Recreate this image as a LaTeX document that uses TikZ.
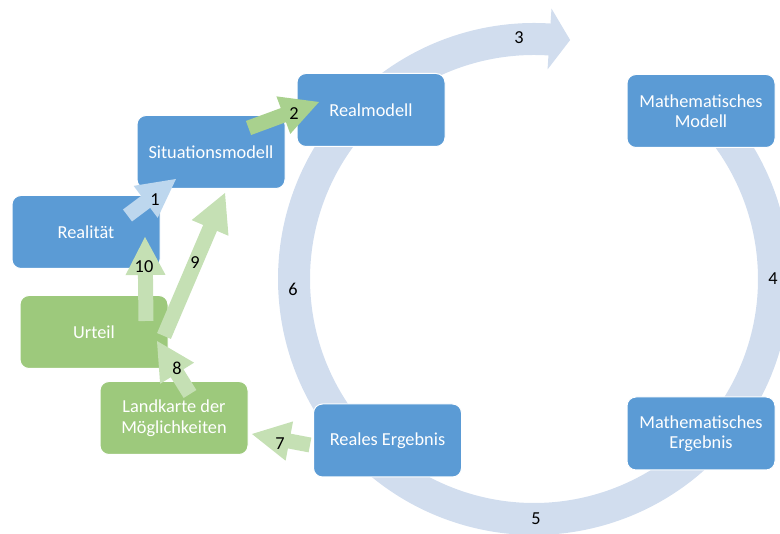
\documentclass[tikz,border=0pt]{standalone}
\usepackage{fontspec}
\setmainfont{Carlito}
\usetikzlibrary{calc}
\definecolor{boxblue}{RGB}{91,155,213}
\definecolor{boxgreen}{RGB}{157,201,124}
\definecolor{ringblue}{RGB}{209,221,238}
\definecolor{arrblue}{RGB}{189,215,238}
\definecolor{arrgreen}{RGB}{169,209,142}
\definecolor{arrlight}{RGB}{197,224,180}
\newcommand\barrow[3]{%
  \coordinate (hb) at ($(#2)!38pt!(#1)$);
  \fill[#3] ($(#1)!7.5pt!90:(#2)$) -- ($(hb)!7.5pt!90:(#2)$) -- ($(hb)!20pt!90:(#2)$)
    -- (#2) -- ($(hb)!20pt!-90:(#2)$) -- ($(hb)!7.5pt!-90:(#2)$) -- ($(#1)!7.5pt!-90:(#2)$) -- cycle;
}
\begin{document}
\begin{tikzpicture}[x=1pt,y=1pt,
  box/.style={rectangle, rounded corners=9pt, draw=white, line width=1pt,
    minimum width=148pt, minimum height=73pt, inner sep=2pt, text=white,
    align=center, font=\fontsize{18.3}{20.5}\selectfont},
  bluebox/.style={box, fill=boxblue},
  greenbox/.style={box, fill=boxgreen},
  ring/.style={line width=32pt, draw=ringblue},
  num/.style={font=\fontsize{18.3}{20.5}\selectfont, text=black, inner sep=0pt}
]
\useasboundingbox (0,0) rectangle (780,534);
\clip (0,0) rectangle (780,534);
\coordinate (c) at (534,255);

% ring segments
\draw[ring] ($(c)+(138:240)$) arc[start angle=138, end angle=86.0, radius=240];
\fill[ringblue] ($(c)+(86.3:271)$) -- ($(c)+(81.4:241.7)$) -- ($(c)+(86.3:210)$) -- cycle;
\draw[ring] ($(c)+(142:240)$) arc[start angle=142, end angle=220, radius=240];
\draw[ring] ($(c)+(225:240)$) arc[start angle=225, end angle=318, radius=240];
\draw[ring] ($(c)+(-35:240)$) arc[start angle=-35, end angle=52, radius=240];

% boxes
\node[bluebox] (real) at (86,302) {Realität};
\node[bluebox] (situ) at (211,382) {Situationsmodell};
\node[bluebox] (realm) at (371,424) {Realmodell};
\node[bluebox] (mathm) at (701,423) {Mathematisches\\Modell};
\node[bluebox] (mathe) at (701,100.5) {Mathematisches\\Ergebnis};
\node[bluebox] (reale) at (387.5,93.5) {Reales Ergebnis};
\node[greenbox] (urteil) at (94,202) {Urteil};
\node[greenbox] (land) at (174,116) {Landkarte der\\Möglichkeiten};

% block arrow ends
\coordinate (a1s) at (127.5,318.5); \coordinate (a1e) at (176,355);
\coordinate (a2s) at (248.5,406);   \coordinate (a2e) at (319,432);
\coordinate (a7s) at (310,89);      \coordinate (a7e) at (252,100);
\coordinate (a8s) at (190,140);     \coordinate (a8e) at (157,193);
\coordinate (a9s) at (164,198);     \coordinate (a9e) at (225,341);
\coordinate (a10s) at (146,213);    \coordinate (a10e) at (145,297);

\barrow{a1s}{a1e}{arrblue}
\barrow{a2s}{a2e}{arrgreen}
\barrow{a7s}{a7e}{arrlight}
\barrow{a8s}{a8e}{arrlight}
\barrow{a9s}{a9e}{arrlight}
\barrow{a10s}{a10e}{arrlight}

% labels
\node[num] (n1) at (155,334) {1};
\node[num] (n2) at (294,420) {2};
\node[num] (n3) at (519,496) {3};
\node[num] (n4) at (773,255) {4};
\node[num] (n5) at (536,15) {5};
\node[num] (n6) at (293,245) {6};
\node[num] (n7) at (280,90) {7};
\node[num] (n8) at (177,166) {8};
\node[num] (n9) at (195,271) {9};
\node[num] (n10) at (144,267) {10};
\end{tikzpicture}
\end{document}
